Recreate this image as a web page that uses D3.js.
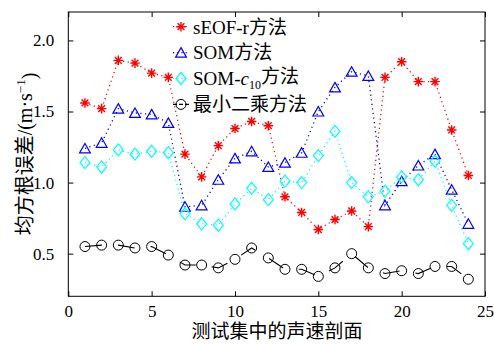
<!DOCTYPE html>
<html><head><meta charset="utf-8">
<script src="https://cdn.jsdelivr.net/npm/d3@7"></script>
<style>body{margin:0;background:#fff} svg{display:block}</style>
</head><body><svg id="c" width="494" height="345"></svg>
<script>
const profiles=[1,2,3,4,5,6,7,8,9,10,11,12,13,14,15,16,17,18,19,20,21,22,23,24];
const seofR=[1.56,1.52,1.86,1.84,1.77,1.74,1.20,1.04,1.26,1.38,1.43,1.40,0.90,0.79,0.67,0.74,0.80,0.69,1.74,1.85,1.71,1.71,1.37,1.05];
const som=[1.24,1.28,1.52,1.49,1.48,1.42,0.83,0.84,1.02,1.17,1.22,1.11,1.14,1.21,1.50,1.67,1.78,1.75,0.84,1.01,1.12,1.20,0.95,0.71];
const somC10=[1.14,1.11,1.23,1.20,1.22,1.21,0.78,0.71,0.70,0.85,0.96,0.88,1.01,1.00,1.19,1.36,1.00,0.90,0.94,1.04,1.02,1.15,0.84,0.57];
const leastSq=[0.55,0.56,0.56,0.54,0.55,0.49,0.42,0.42,0.40,0.46,0.54,0.47,0.39,0.39,0.34,0.40,0.50,0.40,0.36,0.38,0.36,0.41,0.41,0.32];
const xTicks=[0,5,10,15,20,25];
const yTicks=[0.5,1.0,1.5,2.0];
const xLabel="测试集中的声速剖面";
const yLabel="均方根误差/(m·s";

const FONT="'Liberation Serif','Times New Roman','Noto Sans CJK SC',serif";
const L=68.3,R=485,T=12,B=296.3;
const svg=d3.select("#c");
const x=d3.scaleLinear().domain([0,25]).range([L,R]);
const y=d3.scaleLinear().domain([0.2,2.2]).range([B,T]);

function styleAxis(g){
  g.select(".domain").remove();
  g.selectAll(".tick line").attr("stroke","#000").attr("stroke-width",1);
  g.selectAll("text").attr("font-family",FONT).attr("font-size",17).attr("fill","#000");
}
svg.append("g").attr("transform",`translate(0,${B})`)
  .call(d3.axisBottom(x).tickValues(xTicks).tickSize(-5).tickSizeOuter(0).tickPadding(9).tickFormat(d3.format("d")))
  .call(styleAxis);
svg.append("g").attr("transform",`translate(0,${T})`)
  .call(d3.axisTop(x).tickValues(xTicks).tickSize(-5).tickSizeOuter(0).tickFormat(""))
  .call(styleAxis);
svg.append("g").attr("transform",`translate(${L},0)`)
  .call(d3.axisLeft(y).tickValues(yTicks).tickSize(-5).tickSizeOuter(0).tickPadding(14).tickFormat(d3.format(".1f")))
  .call(styleAxis);
svg.append("g").attr("transform",`translate(${R},0)`)
  .call(d3.axisRight(y).tickValues(yTicks).tickSize(-5).tickSizeOuter(0).tickFormat(""))
  .call(styleAxis);
svg.append("rect").attr("x",L).attr("y",T).attr("width",R-L).attr("height",B-T)
  .attr("fill","none").attr("stroke","#000").attr("stroke-width",1);

// markers
function star(g,cx,cy,c){const r=4.8,d=r*0.707;
  g.append("path").attr("d",`M${cx-r},${cy}H${cx+r}M${cx},${cy-r}V${cy+r}M${cx-d},${cy-d}L${cx+d},${cy+d}M${cx-d},${cy+d}L${cx+d},${cy-d}`)
   .attr("stroke",c).attr("stroke-width",1.4).attr("fill","none");}
function tri(g,cx,cy,c){
  g.append("path").attr("d",`M${cx},${cy-5}L${cx+5.4},${cy+4.5}L${cx-5.4},${cy+4.5}Z`)
   .attr("stroke",c).attr("stroke-width",1.2).attr("fill","none");}
function dia(g,cx,cy,c){
  g.append("path").attr("d",`M${cx},${cy-6}L${cx+5},${cy}L${cx},${cy+6}L${cx-5},${cy}Z`)
   .attr("stroke",c).attr("stroke-width",1.2).attr("fill","none");}
function circ(g,cx,cy,c){
  g.append("circle").attr("cx",cx).attr("cy",cy).attr("r",5)
   .attr("stroke",c).attr("stroke-width",1).attr("fill","none");}

const series=[
  {name:"sEOF-r方法",vals:seofR,color:"#ff0000",dash:"1.2,3.4",mark:star},
  {name:"SOM方法",vals:som,color:"#0000ff",dash:"1.2,3.4",mark:tri},
  {name:"SOM-c10方法",vals:somC10,color:"#00ffff",dash:"1.2,3.4",mark:dia},
  {name:"最小二乘方法",vals:leastSq,color:"#000000",dash:"17,16",mark:circ}
];
const line=d3.line().x(d=>x(d[0])).y(d=>y(d[1]));
series.forEach(s=>{
  const g=svg.append("g");
  const pts=profiles.map((p,i)=>[p,s.vals[i]]);
  g.append("path").attr("d",line(pts)).attr("fill","none").attr("stroke",s.color)
    .attr("stroke-width",s.mark===circ?1.1:1.3).attr("stroke-dasharray",s.dash);
  pts.forEach(p=>s.mark(g,x(p[0]),y(p[1]),s.color));
});

// legend
const lg=svg.append("g");
series.forEach((s,i)=>{
  const yy=26.7+i*25.9;
  lg.append("line").attr("x1",173).attr("x2",189).attr("y1",yy).attr("y2",yy)
    .attr("stroke",s.color).attr("stroke-width",1.2).attr("stroke-dasharray",s.mark===circ?"4,2":"1.2,3");
  s.mark(lg,181,yy,s.color);
  const t=lg.append("text").attr("x",193).attr("y",yy).attr("dy","0.36em")
    .attr("font-family",FONT).attr("font-size",19).attr("fill","#000");
  if(s.name==="SOM-c10方法"){
    t.append("tspan").text("SOM-");
    t.append("tspan").attr("font-style","italic").text("c");
    t.append("tspan").attr("font-size",12).attr("dy","0.3em").text("10");
    t.append("tspan").attr("dy","-0.3em").text("方法");
  } else t.text(s.name);
});

// axis labels
svg.append("text").attr("x",277).attr("y",338).attr("text-anchor","middle")
  .attr("font-family",FONT).attr("font-size",19).attr("fill","#000").text(xLabel);
const yl=svg.append("text").attr("transform","translate(25,154) rotate(-90)")
  .attr("text-anchor","middle").attr("dy","0.35em")
  .attr("font-family",FONT).attr("font-size",20).attr("fill","#000");
yl.append("tspan").text(yLabel);
yl.append("tspan").attr("font-size",13).attr("dy","-0.55em").text("−1");
yl.append("tspan").attr("dy","0.55em").text(")");
</script></body></html>
